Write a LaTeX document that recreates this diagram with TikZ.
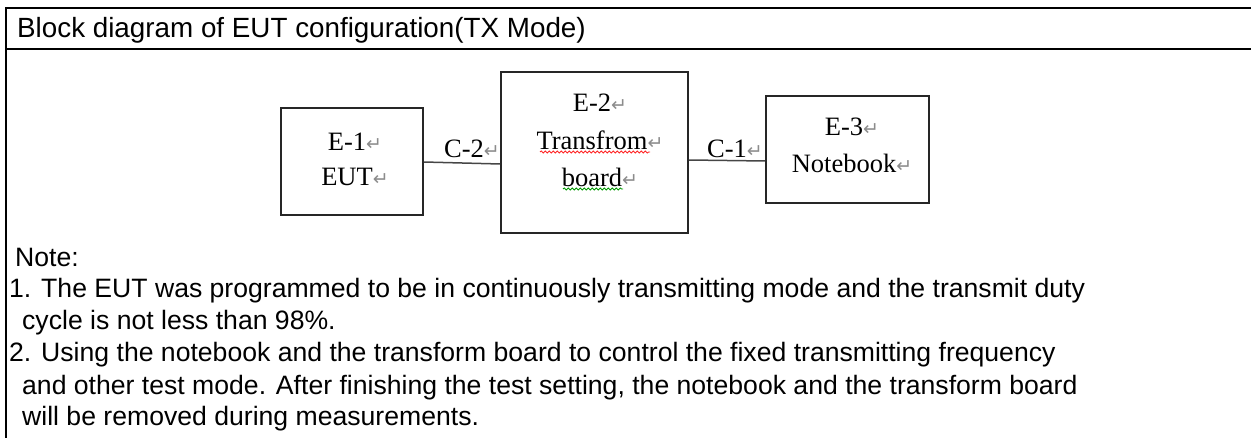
\documentclass[tikz,border=0pt]{standalone}
\usepackage{fontspec}
\setmainfont{Liberation Serif}
\newfontfamily\arialf{Liberation Sans}
\newfontfamily\dejavuf{DejaVu Sans}
\usetikzlibrary{decorations.pathmorphing,calc}
\definecolor{retgray}{RGB}{140,140,140}
\definecolor{cablegray}{RGB}{70,70,70}
\newcommand{\rt}{{\dejavuf\color{retgray}\fontsize{19}{19}\selectfont ↵}}
\tikzset{
  frameline/.style={line width=2.6pt, black},
  unitbox/.style={draw=black!85, line width=1.6pt, inner sep=0pt},
  serif/.style={font=\fontsize{26.5}{26.5}\selectfont, inner sep=0pt},
  sans/.style={font=\arialf\fontsize{26.6}{26.6}\selectfont, inner sep=0pt, anchor=base west},
  titletext/.style={font=\arialf\fontsize{27.8}{27.8}\selectfont, inner sep=0pt, anchor=base west},
  cable/.style={draw=cablegray, line width=1.5pt},
  spell/.style={decorate, decoration={snake, segment length=4pt, amplitude=1.1pt}, line width=0.8pt}
}
\begin{document}
\begin{tikzpicture}[x=1pt,y=-1pt]
\useasboundingbox (0,0) rectangle (1251,438);
% frame
\coordinate (tl) at (6,8);
\coordinate (tr) at (1251,8);
\coordinate (bl) at (6,438);
\coordinate (hl) at (6,49);
\coordinate (hr) at (1251,49);
\draw[frameline] (tr) -- (tl) -- (bl);
\draw[frameline] (hl) -- (hr);
\node[titletext] (title) at (17,37.5) {Block diagram of EUT configuration(TX Mode)};
% boxes
\node[unitbox, minimum width=142pt, minimum height=107pt] (e1) at (352,161.5) {};
\node[unitbox, minimum width=187pt, minimum height=161pt] (e2) at (594.5,152.5) {};
\node[unitbox, minimum width=163pt, minimum height=107pt] (e3) at (847.5,149.5) {};
% box texts
\node[serif] (e1a) at (355,142) {E-1\rt};
\node[serif] (e1b) at (355,177) {EUT\rt};
\node[serif] (e2a) at (600,103) {E-2\rt};
\node[serif] (e2b) at (600,140) {Transfrom\rt};
\node[serif] (e2c) at (600,177) {board\rt};
\node[serif] (e3a) at (852,127) {E-3\rt};
\node[serif] (e3b) at (852,163) {Notebook\rt};
% spelling marks
\draw[spell, red!85] (540,152) -- (650,152);
\draw[spell, green!60!black] (563,189) -- (623,189);
% cables
\coordinate (c2a) at ($(e1.east)+(0,0.5)$);
\coordinate (c2b) at ($(e2.west)+(0,11.5)$);
\coordinate (c1a) at ($(e2.east)+(0,7.5)$);
\coordinate (c1b) at ($(e3.west)+(0,11.5)$);
\draw[cable] (c2a) -- (c2b);
\draw[cable] (c1a) -- (c1b);
\node[serif] (c2) at (472,149) {C-2\rt};
\node[serif] (c1) at (735,149) {C-1\rt};
% notes
\node[sans] (n0) at (15,267) {Note:};
\node[sans] (n1) at (9,298) {1. The EUT was programmed to be in continuously transmitting mode and the transmit duty};
\node[sans] (n1b) at (22,330) {cycle is not less than 98\%.};
\node[sans] (n2) at (9,362) {2. Using the notebook and the transform board to control the fixed transmitting frequency};
\node[sans] (n2b) at (22,395) {and other test mode. After finishing the test setting, the notebook and the transform board};
\node[sans] (n2c) at (22,425) {will be removed during measurements.};
\end{tikzpicture}
\end{document}
